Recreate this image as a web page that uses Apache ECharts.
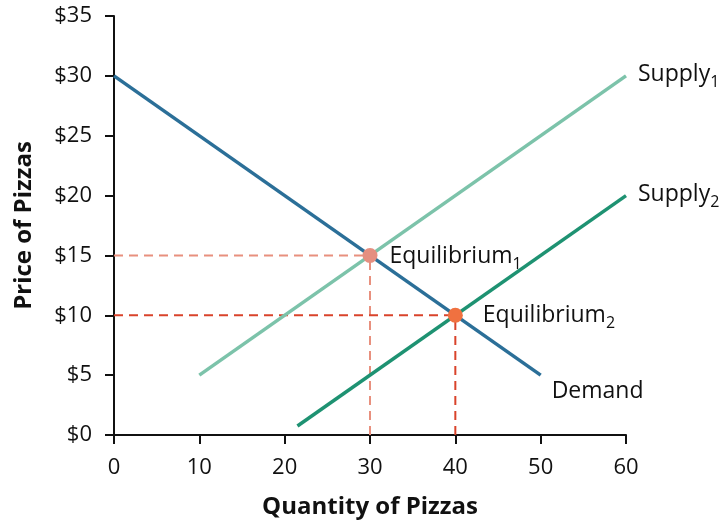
<!DOCTYPE html>
<html><head><meta charset="utf-8">
<script src="https://cdn.jsdelivr.net/npm/echarts@6/dist/echarts.min.js"></script>
<style>html,body{margin:0;padding:0;background:#fff}#c{width:724px;height:522px}</style>
</head><body><div id="c"></div>
<script>
var xTicks = [0, 10, 20, 30, 40, 50, 60];
var yTicks = [0, 5, 10, 15, 20, 25, 30, 35];
var demand = [[0, 30], [50, 5]];
var supply1 = [[10, 5], [60, 30]];
var supply2 = [[21.5, 0.75], [60, 20]];
var eq1 = [30, 15];
var eq2 = [40, 10];

var font = '"Open Sans", "Noto Sans", sans-serif';
var sub = {
  n: {fontSize: 23, fontFamily: font, color: '#111'},
  s: {fontSize: 16, fontFamily: font, color: '#111', padding: [16, 0, 0, 0]}
};
var chart = echarts.init(document.getElementById('c'));
chart.setOption({
  animation: false,
  grid: {left: 114, right: 98, top: 16, bottom: 87, containLabel: false, outerBoundsMode: 'none'},
  xAxis: {
    type: 'value', min: 0, max: 60, interval: 10,
    name: 'Quantity of Pizzas', nameLocation: 'middle', nameGap: 60,
    nameTextStyle: {fontFamily: font, fontWeight: 'bold', fontSize: 24, color: '#111'},
    axisLine: {lineStyle: {color: '#111', width: 2}},
    axisTick: {show: true, length: 9, lineStyle: {color: '#111', width: 2}},
    axisLabel: {fontFamily: font, fontSize: 22, color: '#111', margin: 22},
    splitLine: {show: false}
  },
  yAxis: {
    type: 'value', min: 0, max: 35, interval: 5,
    name: 'Price of Pizzas', nameLocation: 'middle', nameGap: 78,
    nameTextStyle: {fontFamily: font, fontWeight: 'bold', fontSize: 24, color: '#111'},
    axisLine: {show: true, lineStyle: {color: '#111', width: 2}},
    axisTick: {show: true, length: 9, lineStyle: {color: '#111', width: 2}},
    axisLabel: {fontFamily: font, fontSize: 22, color: '#111', margin: 22, formatter: function (v) { return '$' + v; }},
    splitLine: {show: false}
  },
  series: [
    {type: 'line', data: [[0, eq1[1]], eq1], symbol: 'none', lineStyle: {color: '#e8907e', width: 2, type: [9, 6]}, z: 1},
    {type: 'line', data: [[eq1[0], 0], eq1], symbol: 'none', lineStyle: {color: '#e8907e', width: 2, type: [9, 6]}, z: 1},
    {type: 'line', data: [[0, eq2[1]], eq2], symbol: 'none', lineStyle: {color: '#d9432b', width: 2, type: [9, 6]}, z: 1},
    {type: 'line', data: [[eq2[0], 0], eq2], symbol: 'none', lineStyle: {color: '#d9432b', width: 2, type: [9, 6]}, z: 1},
    {type: 'line', data: demand, symbol: 'none', lineStyle: {color: '#2b6f98', width: 3.5}, z: 2,
     endLabel: {show: true, formatter: 'Demand', fontFamily: font, fontSize: 23, color: '#111', offset: [3, 16]}},
    {type: 'line', data: supply1, symbol: 'none', lineStyle: {color: '#7cc3aa', width: 3.5}, z: 2,
     endLabel: {show: true, formatter: '{n|Supply}{s|1}', rich: sub, offset: [4, -1]}},
    {type: 'line', data: supply2, symbol: 'none', lineStyle: {color: '#1e9272', width: 3.5}, z: 2,
     endLabel: {show: true, formatter: '{n|Supply}{s|2}', rich: sub, offset: [4, -1]}},
    {type: 'scatter', data: [eq1], symbolSize: 15, itemStyle: {color: '#e58f80', opacity: 1}, z: 5,
     label: {show: true, position: 'right', distance: 12, offset: [0, 1], formatter: '{n|Equilibrium}{s|1}', rich: sub}},
    {type: 'scatter', data: [eq2], symbolSize: 15, itemStyle: {color: '#f07140', opacity: 1}, z: 5,
     label: {show: true, position: 'right', distance: 20, formatter: '{n|Equilibrium}{s|2}', rich: sub}}
  ]
});
</script></body></html>
